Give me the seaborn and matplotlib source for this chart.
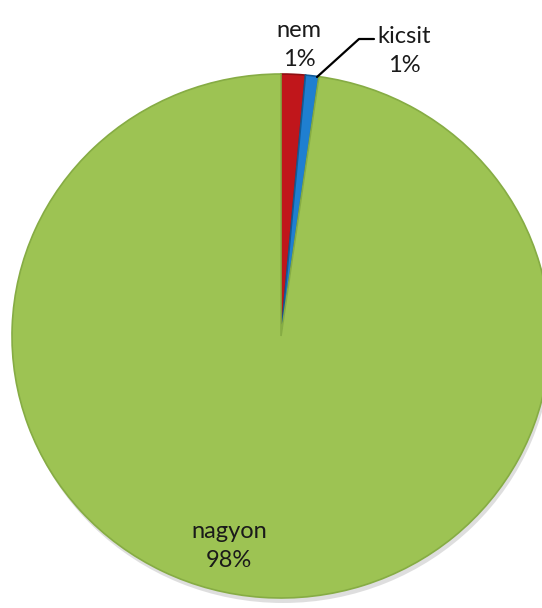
import matplotlib.pyplot as plt
import seaborn as sns

categories = ['nem', 'kicsit', 'nagyon']
values = [1.45, 0.8, 97.75]
colors = ['#C0161B', '#1F7FD0', '#9DC353']
edge_colors = ['#8E0F12', '#125A96', '#86AC44']

sns.set_theme(style='white')
plt.rcParams['font.family'] = ['Lato', 'DejaVu Sans']

W, H = 542, 608
fig = plt.figure(figsize=(W / 100, H / 100), dpi=100)

# pie slightly wider than tall, like the original
rx, ry = 269, 262
cx, cy = 281, H - 336
ax = fig.add_axes([0, 0, 1, 1])
ylim_top = H * rx / ry
scale = ylim_top / H

# soft shadow under the pie
ax.pie([1], colors=['#c4c4c4'], center=(cx + 2, (cy - 5) * scale), radius=rx,
       frame=True, wedgeprops=dict(linewidth=0, alpha=0.55))
wedges, _ = ax.pie(values, colors=colors, startangle=90, counterclock=False,
                   center=(cx, cy * scale), radius=rx, frame=True,
                   wedgeprops=dict(linewidth=1.2))
for w, ec in zip(wedges, edge_colors):
    w.set_edgecolor(ec)
ax.set_aspect('auto')
ax.set_xlim(0, W)
ax.set_ylim(0, ylim_top)
ax.axis('off')

# overlay in pixel coordinates for labels
ov = fig.add_axes([0, 0, 1, 1])
ov.set_xlim(0, W)
ov.set_ylim(0, H)
ov.axis('off')

total = sum(values)
pct = [f'{round(v / total * 100):.0f}%' for v in values]

txt = dict(ha='center', va='center', fontsize=17, color='#1a1a1a', linespacing=1.5)
ov.text(299, H - 45, f'{categories[0]}\n{pct[0]}', **txt)
ov.text(404, H - 51, f'{categories[1]}\n{pct[1]}', **txt)
ov.text(229, H - 546, f'{categories[2]}\n{pct[2]}', **txt)

# leader line for the small slice
ov.plot([317, 359, 374], [H - 77, H - 39, H - 39], color='black', lw=1.6)

fig.savefig('out.png', dpi=100)
